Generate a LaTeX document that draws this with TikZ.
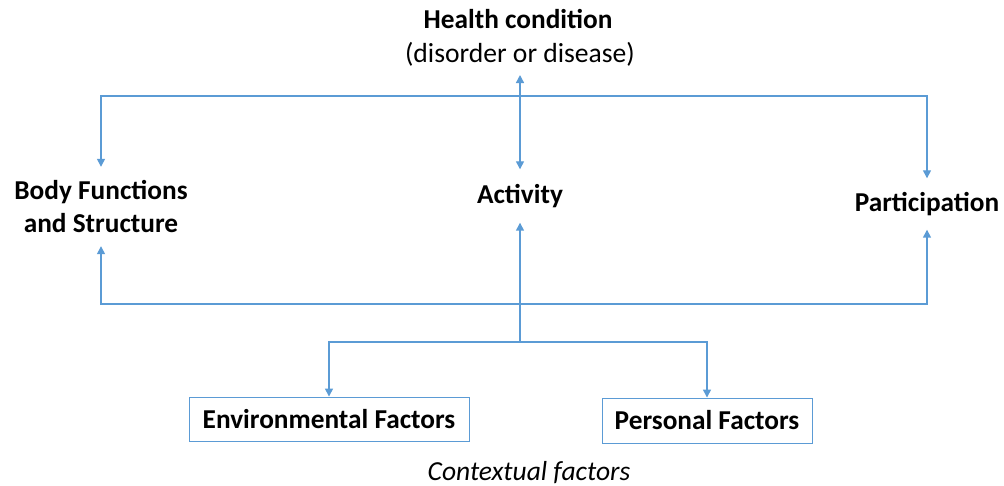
\documentclass[tikz,border=0pt]{standalone}
\usepackage{fontspec}
\setmainfont{Carlito}
\usetikzlibrary{arrows.meta}
\definecolor{lineblue}{RGB}{91,155,213}
\tikzset{
  conn/.style={draw=lineblue, line width=1.4pt, -{Triangle[length=8pt,width=8pt]}},
  dconn/.style={draw=lineblue, line width=1.4pt, {Triangle[length=8pt,width=8pt]}-{Triangle[length=8pt,width=8pt]}},
  lbl/.style={font=\fontsize{27.3}{33}\selectfont\bfseries, inner sep=0pt, align=center},
  fbox/.style={draw=lineblue, line width=0.9pt, font=\fontsize{27.3}{33}\selectfont\bfseries, inner sep=0pt}
}
\begin{document}
\begin{tikzpicture}[x=1pt,y=-1pt]
\useasboundingbox (0,0) rectangle (1004,486);
\node[lbl, anchor=base] (hc1) at (518,29) {Health condition};
\node[font=\fontsize{27.6}{33}\selectfont, inner xsep=0pt, inner ysep=8pt, anchor=base] (hc2) at (520,63) {(disorder or disease)};
\node[lbl, minimum height=53pt] (act) at (520,196) {Activity};
\node[lbl, minimum height=79pt] (bfs) at (101,206.5) {Body Functions\\and Structure};
\node[lbl, minimum height=51pt] (part) at (927,204) {Participation};
\node[fbox, minimum width=280pt, minimum height=44pt] (env) at (329,419) {Environmental Factors};
\node[fbox, minimum width=210pt, minimum height=45pt] (pers) at (707,420.5) {Personal Factors};
\node[font=\fontsize{27.5}{33}\selectfont\itshape, inner sep=0pt, anchor=base] (ctx) at (529,480) {Contextual factors};
\coordinate (top) at (520,96);
\coordinate (bot) at (520,304);
\coordinate (mid) at (520,342);
\draw[dconn] (bfs.north) |- (top) -| (part.north);
\draw[dconn] (bfs.south) |- (bot) -| (part.south);
\draw[dconn] (hc2.south) -- (act.north);
\draw[conn] (mid) -- (act.south);
\draw[conn] (mid) -| (env.north);
\draw[conn] (mid) -| (pers.north);
\end{tikzpicture}
\end{document}
